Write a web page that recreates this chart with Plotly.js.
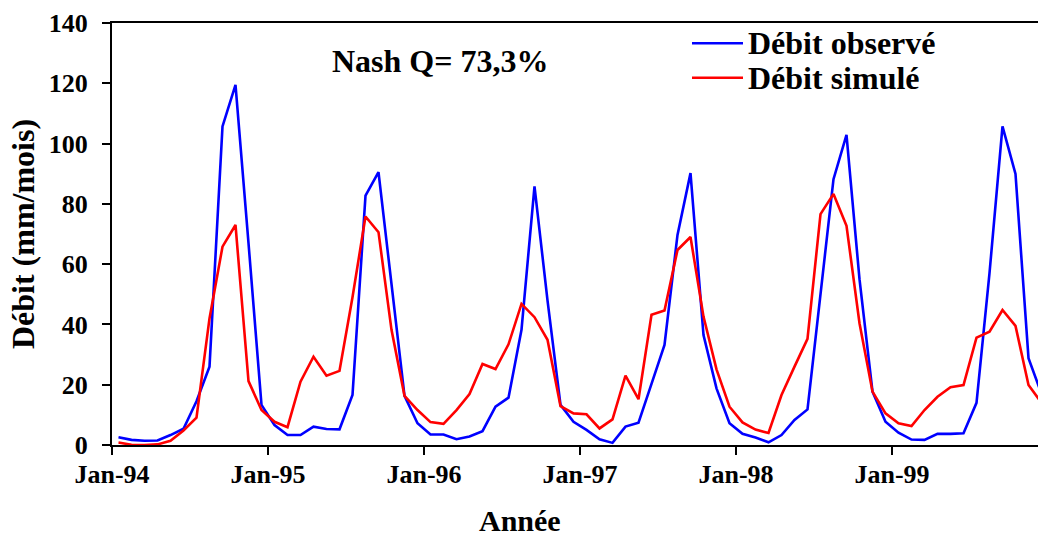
<!DOCTYPE html>
<html>
<head>
<meta charset="utf-8">
<script src="https://cdn.plot.ly/plotly-3.0.1.min.js"></script>
<style>
  html, body { margin: 0; padding: 0; background: #ffffff; }
  #chart { width: 1038px; height: 536px; }
</style>
</head>
<body>
<div id="chart"></div>
<script>
// Monthly discharge, January 1994 to December 1999 (mm/month)
const yearLabels = ['Jan-94', 'Jan-95', 'Jan-96', 'Jan-97', 'Jan-98', 'Jan-99'];
const yTicks = [0, 20, 40, 60, 80, 100, 120, 140];

const observed = [
  2.6, 1.7, 1.4, 1.5, 3.3, 5.4, 14.5, 26.0, 105.7, 119.5, 67.0, 13.3,
  6.6, 3.3, 3.3, 6.1, 5.3, 5.2, 16.6, 82.7, 90.5, 53.7, 16.3, 7.2,
  3.5, 3.5, 1.9, 2.8, 4.6, 12.7, 15.7, 38.2, 85.8, 48.0, 13.3, 7.7,
  5.0, 1.9, 0.7, 6.1, 7.4, 20.3, 33.2, 69.7, 90.2, 36.5, 18.8, 7.2,
  3.7, 2.5, 0.9, 3.3, 8.3, 11.8, 50.0, 88.2, 102.9, 55.0, 17.7, 7.7,
  4.1, 1.8, 1.7, 3.7, 3.7, 3.9, 14.0, 57.0, 105.7, 89.9, 28.8, 17.0
];

const simulated = [
  0.8, 0.1, 0.0, 0.2, 1.4, 4.8, 9.1, 42.0, 65.8, 73.0, 21.2, 11.6,
  7.7, 5.9, 21.0, 29.3, 23.0, 24.6, 49.0, 75.8, 70.6, 38.2, 16.3, 11.6,
  7.6, 7.0, 11.6, 16.9, 26.9, 25.2, 33.4, 46.8, 42.4, 34.9, 12.9, 10.5,
  10.2, 5.5, 8.5, 23.0, 15.2, 43.2, 44.6, 64.7, 69.0, 42.6, 25.1, 12.7,
  7.5, 5.1, 4.0, 16.6, 26.0, 35.2, 76.6, 83.3, 72.7, 40.4, 17.7, 10.5,
  7.2, 6.3, 11.6, 16.0, 19.2, 19.9, 35.6, 37.6, 44.8, 39.5, 19.9, 14.0
];

const seriesNames = ['Débit observé', 'Débit simulé'];
const seriesColors = ['#0000FF', '#FF0000'];
const nashText = 'Nash Q= 73,3%';
const xTitle = 'Année';
const yTitle = 'Débit (mm/mois)';

// month index along the category axis
const monthIndex = observed.map((_, i) => i);

const FONT = 'Liberation Serif, "Times New Roman", Times, serif';
const W = 1038, H = 536;
const M = { l: 112, r: 0, t: 23, b: 91 };
const plotW = W - M.l - M.r;
const plotH = H - M.t - M.b;
const pxX = px => (px - M.l) / plotW;          // pixel column -> paper x
const pxY = py => (H - M.b - py) / plotH;      // pixel row -> paper y
const PX_PER_MONTH = 13;

const traces = [observed, simulated].map((vals, k) => ({
  x: monthIndex,
  y: vals,
  type: 'scatter',
  mode: 'lines',
  name: seriesNames[k],
  line: { color: seriesColors[k], width: 2.6 },
  hoverinfo: 'skip'
}));

const bold = (size) => ({ family: FONT, size: size, color: '#000000', weight: 'bold' });

// hand-drawn legend: sample line + label per series
const legendRows = [43.3, 77.7];
const shapes = legendRows.map((py, k) => ({
  type: 'line', xref: 'paper', yref: 'paper',
  x0: pxX(692), x1: pxX(743), y0: pxY(py), y1: pxY(py),
  line: { color: seriesColors[k], width: 2.6 }
}));

const annotations = legendRows.map((py, k) => ({
  xref: 'paper', yref: 'paper', x: pxX(746), y: pxY(py),
  xanchor: 'left', yanchor: 'middle', showarrow: false,
  text: seriesNames[k], font: bold(32)
}));

annotations.push({
  xref: 'paper', yref: 'paper', x: pxX(439.5), y: pxY(61.5),
  xanchor: 'center', yanchor: 'middle', showarrow: false,
  text: nashText, font: bold(32)
});

annotations.push({
  xref: 'paper', yref: 'paper', x: pxX(520), y: pxY(520),
  xanchor: 'center', yanchor: 'middle', showarrow: false,
  text: xTitle, font: bold(30)
});

const layout = {
  width: W, height: H,
  margin: M,
  paper_bgcolor: '#ffffff',
  plot_bgcolor: '#ffffff',
  showlegend: false,
  font: { family: FONT, color: '#000000' },
  xaxis: {
    range: [-0.5, -0.5 + plotW / PX_PER_MONTH],
    tickmode: 'array',
    tickvals: yearLabels.map((_, k) => 12 * k - 0.5),
    ticktext: yearLabels,
    ticks: 'outside', ticklen: 8, tickwidth: 2, tickcolor: '#000000',
    ticklabelshift: 6.5,
    ticklabelstandoff: -3,
    tickfont: bold(26),
    showline: true, linewidth: 2, linecolor: '#000000', mirror: true,
    showgrid: false, zeroline: false, fixedrange: true
  },
  yaxis: {
    range: [0, 140],
    tickmode: 'array',
    tickvals: yTicks,
    ticktext: yTicks.map(String),
    ticks: 'outside', ticklen: 8, tickwidth: 2, tickcolor: '#000000',
    ticklabelstandoff: 9,
    tickfont: bold(26),
    showline: true, linewidth: 2, linecolor: '#000000',
    showgrid: false, zeroline: false, fixedrange: true,
    title: { text: yTitle, font: bold(32), standoff: 5 }
  },
  shapes: shapes,
  annotations: annotations
};

Plotly.newPlot('chart', traces, layout, { staticPlot: true, displayModeBar: false });
</script>
</body>
</html>
